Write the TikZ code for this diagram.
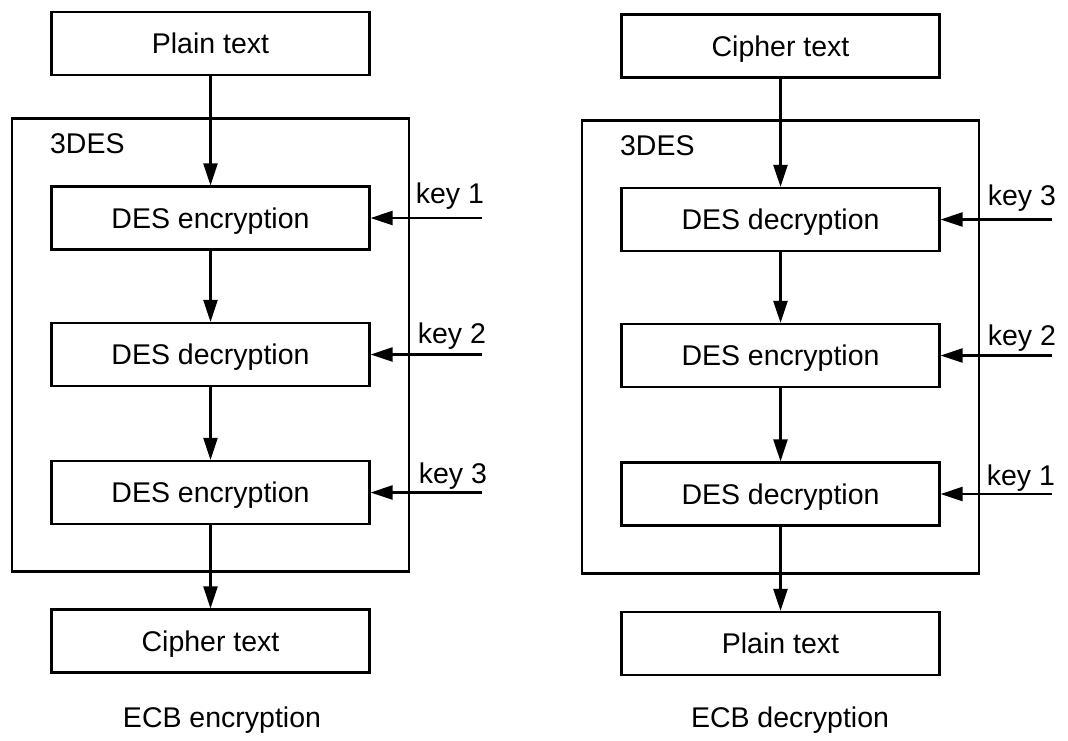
\documentclass[tikz,border=0pt]{standalone}
\usepackage{fontspec}
\setmainfont{Liberation Sans}
\usetikzlibrary{arrows.meta}
\begin{document}
\begin{tikzpicture}[x=1pt,y=-1pt,
  line width=2.2pt,
  txt/.style={font=\fontsize{28.5}{34}\selectfont, inner sep=0pt},
  box/.style={draw, txt, minimum width=318pt, minimum height=63pt, text height=20.4pt, text depth=0pt},
  outerbox/.style={draw, inner sep=0pt, minimum width=397pt, minimum height=453pt},
  arr/.style={-{Triangle[length=22pt,width=14pt]}}]
\useasboundingbox (0,0) rectangle (1068,740);
% ---------- left: encryption ----------
\node[outerbox] (L) at (210.5,345) {};
\node[txt, anchor=base west] (L3) at (49,153) {3DES};
\node[box] (l0) at (210.5,43.5) {Plain text};
\node[box] (l1) at (210.5,218) {DES encryption};
\node[box] (l2) at (210.5,354.5) {DES decryption};
\node[box] (l3) at (210.5,492.5) {DES encryption};
\node[box] (l4) at (210.5,641) {Cipher text};
\node[txt, anchor=base] (lcap) at (222,727) {ECB encryption};
\draw[arr] (l0) -- (l1);
\draw[arr] (l1) -- (l2);
\draw[arr] (l2) -- (l3);
\draw[arr] (l3) -- (l4);
\coordinate (lk1) at (482,218);
\coordinate (lk2) at (482,354.5);
\coordinate (lk3) at (482,492.5);
\draw[arr] (lk1) -- (l1.east);
\draw[arr] (lk2) -- (l2.east);
\draw[arr] (lk3) -- (l3.east);
\node[txt, anchor=base east] (lt1) at (485,203) {key 1};
\node[txt, anchor=base east] (lt2) at (487,343) {key 2};
\node[txt, anchor=base east] (lt3) at (488,483) {key 3};
% ---------- right: decryption ----------
\node[outerbox] (R) at (780.5,347) {};
\node[txt, anchor=base west] (R3) at (619,155) {3DES};
\node[box] (r0) at (780.5,46) {Cipher text};
\node[box] (r1) at (780.5,219.5) {DES decryption};
\node[box] (r2) at (780.5,355.5) {DES encryption};
\node[box] (r3) at (780.5,494) {DES decryption};
\node[box] (r4) at (780.5,643.5) {Plain text};
\node[txt, anchor=base] (rcap) at (790,727) {ECB decryption};
\draw[arr] (r0) -- (r1);
\draw[arr] (r1) -- (r2);
\draw[arr] (r2) -- (r3);
\draw[arr] (r3) -- (r4);
\coordinate (rk1) at (1052,219.5);
\coordinate (rk2) at (1052,355.5);
\coordinate (rk3) at (1052,494);
\draw[arr] (rk1) -- (r1.east);
\draw[arr] (rk2) -- (r2.east);
\draw[arr] (rk3) -- (r3.east);
\node[txt, anchor=base east] (rt1) at (1057,205) {key 3};
\node[txt, anchor=base east] (rt2) at (1057,345) {key 2};
\node[txt, anchor=base east] (rt3) at (1056,485) {key 1};
\end{tikzpicture}
\end{document}
